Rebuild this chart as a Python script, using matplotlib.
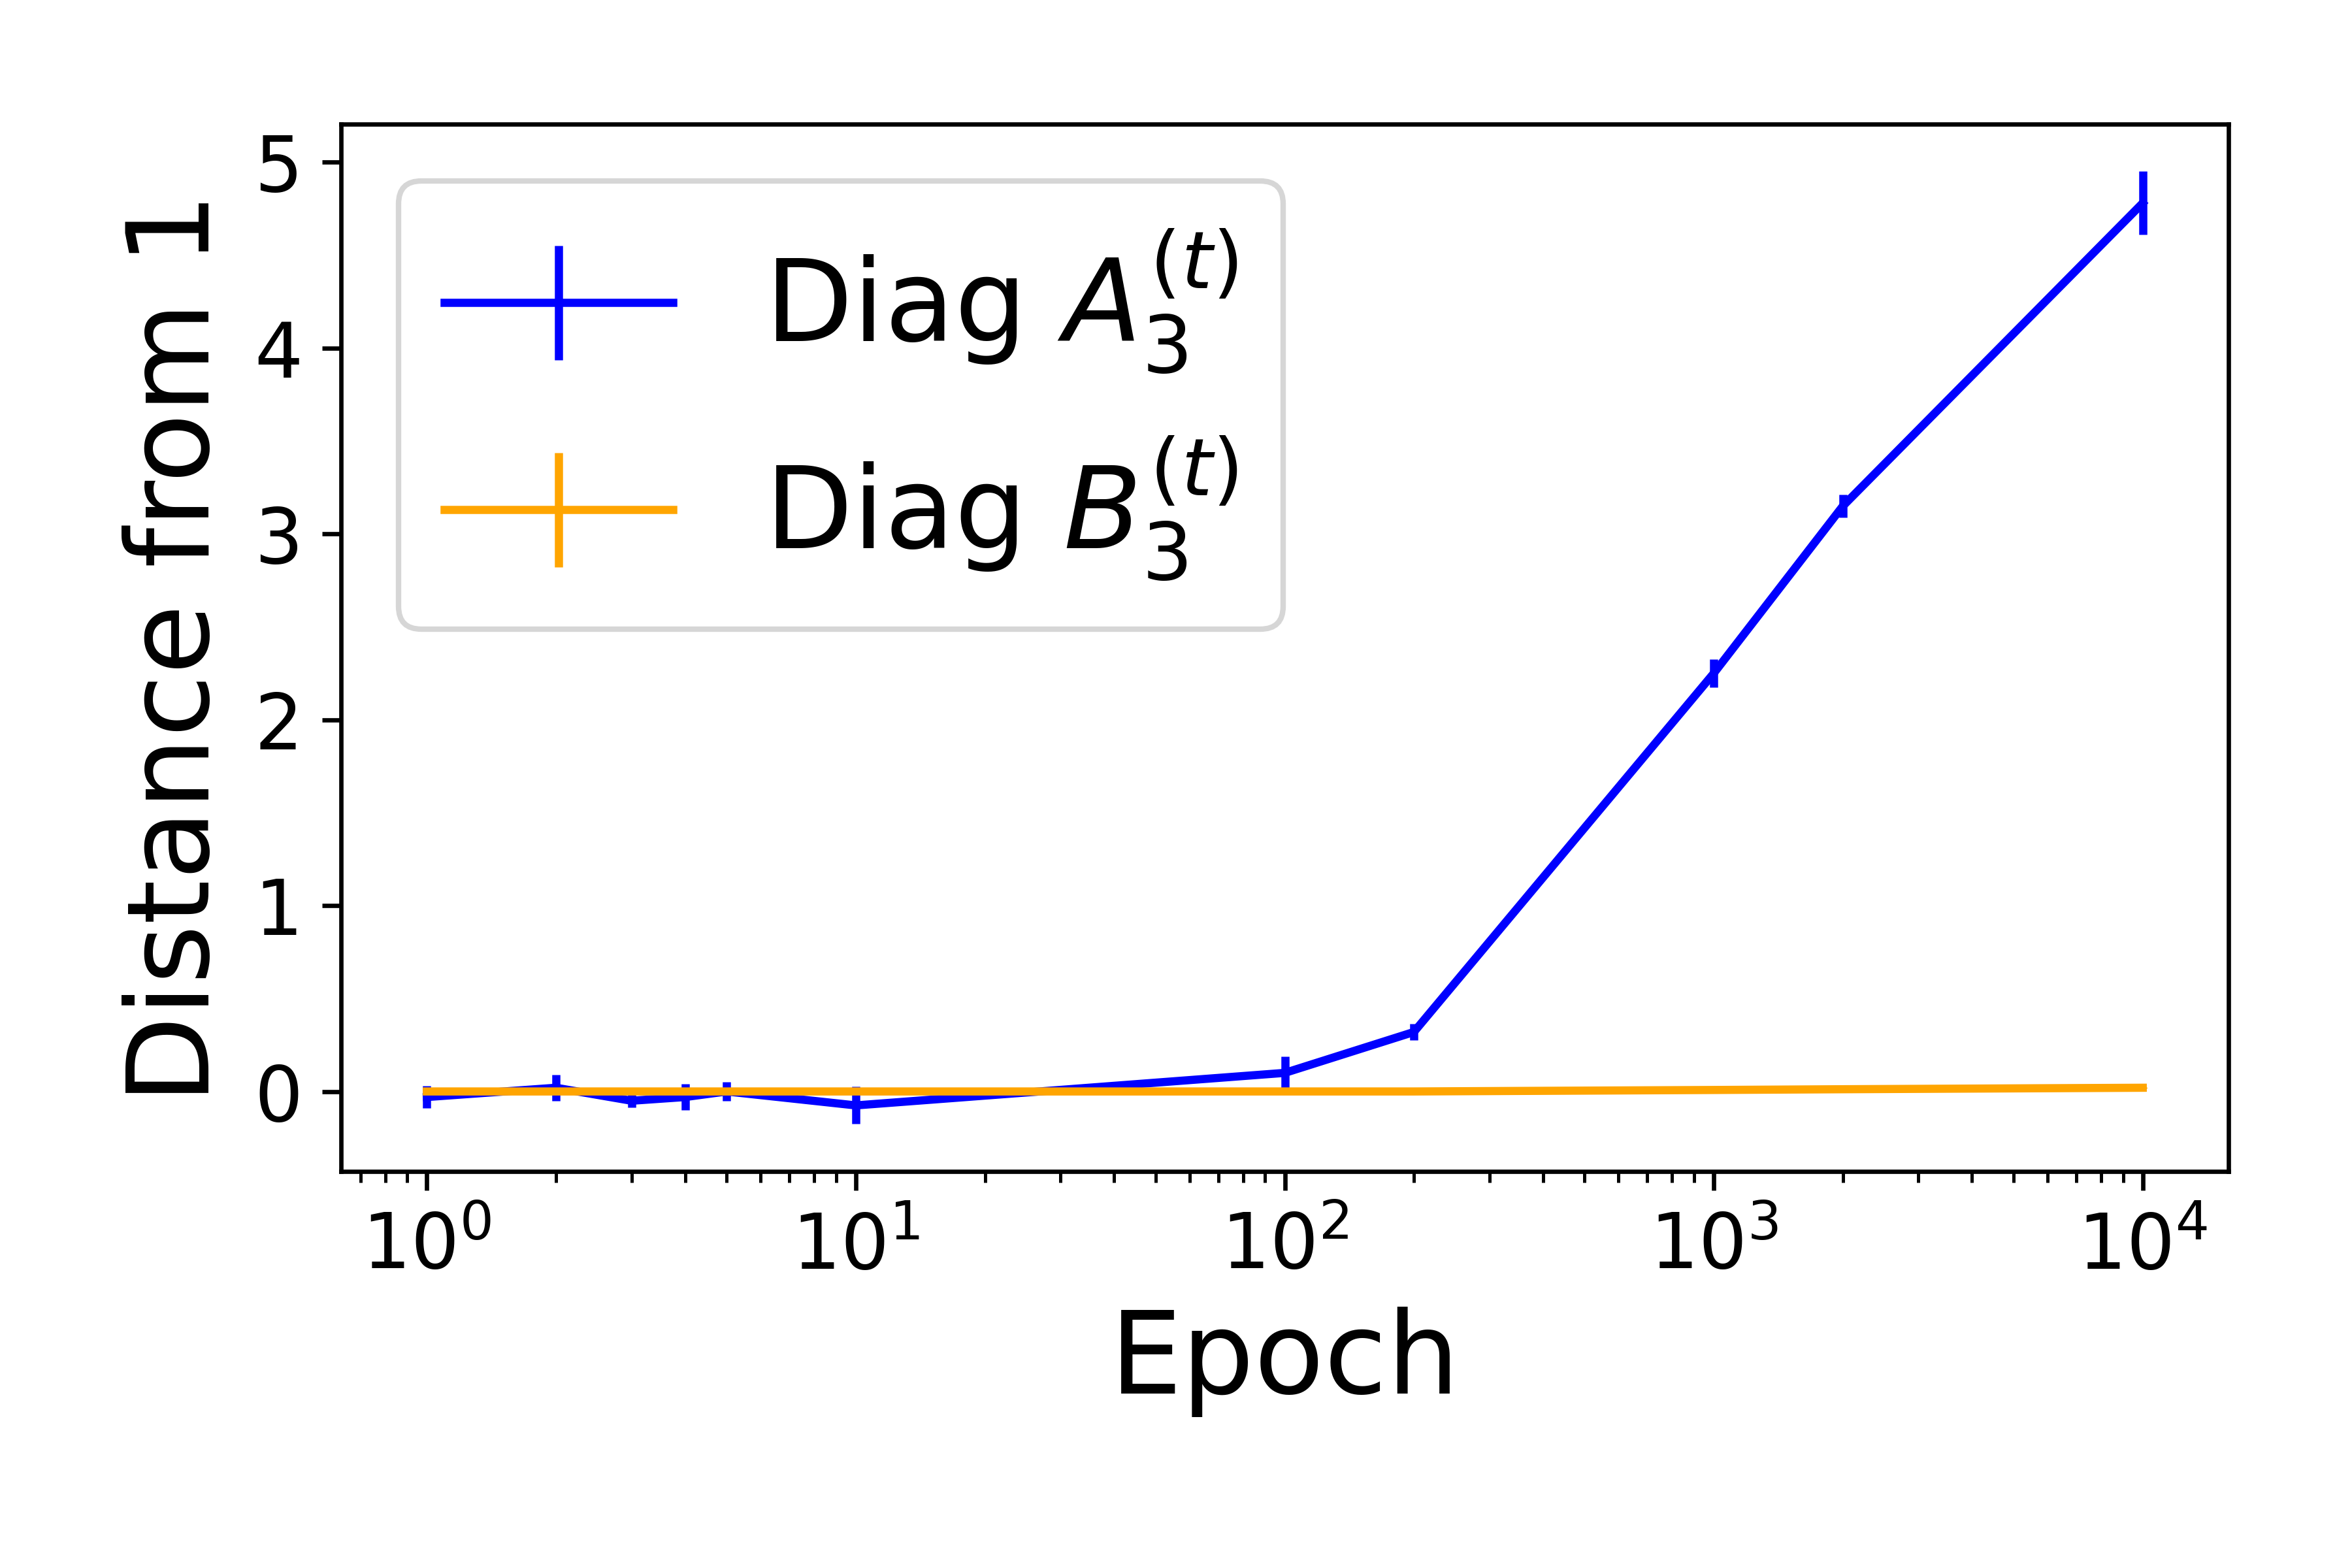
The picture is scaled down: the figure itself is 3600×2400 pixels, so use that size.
import numpy as np
import matplotlib.pyplot as plt

# epochs e valores
epochs = [1, 2, 3, 4, 5, 10, 100, 200, 1000, 2000, 10000]
diag_a = [-0.03, 0.02, -0.05, -0.03, 0.0, -0.075, 0.1, 0.32, 2.25, 3.15, 4.78]
err_a = [0.06, 0.07, 0.035, 0.07, 0.05, 0.1, 0.09, 0.045, 0.075, 0.06, 0.17]
diag_b = [0.0, 0.0, 0.0, 0.0, 0.0, 0.0, 0.0, 0.0, 0.008, 0.012, 0.02]
err_b = [0.004, 0.004, 0.004, 0.004, 0.004, 0.004, 0.004, 0.004, 0.004, 0.004, 0.004]

fig = plt.figure(figsize=(6, 4), dpi=600)
ax = fig.add_axes([0.145, 0.2528, 0.8025, 0.6682])

ax.errorbar(epochs, diag_a, yerr=err_a, color='blue', label=r'Diag $A_3^{(t)}$')
ax.errorbar(epochs, diag_b, yerr=err_b, color='orange', label=r'Diag $B_3^{(t)}$')

ax.set_xscale('log')
ax.set_xlabel('Epoch', fontsize=21)
ax.set_ylabel('Distance from 1', fontsize=21)
ax.tick_params(labelsize=14)
ax.legend(loc='upper left', fontsize=21)

fig.savefig('out.png', dpi=600)
